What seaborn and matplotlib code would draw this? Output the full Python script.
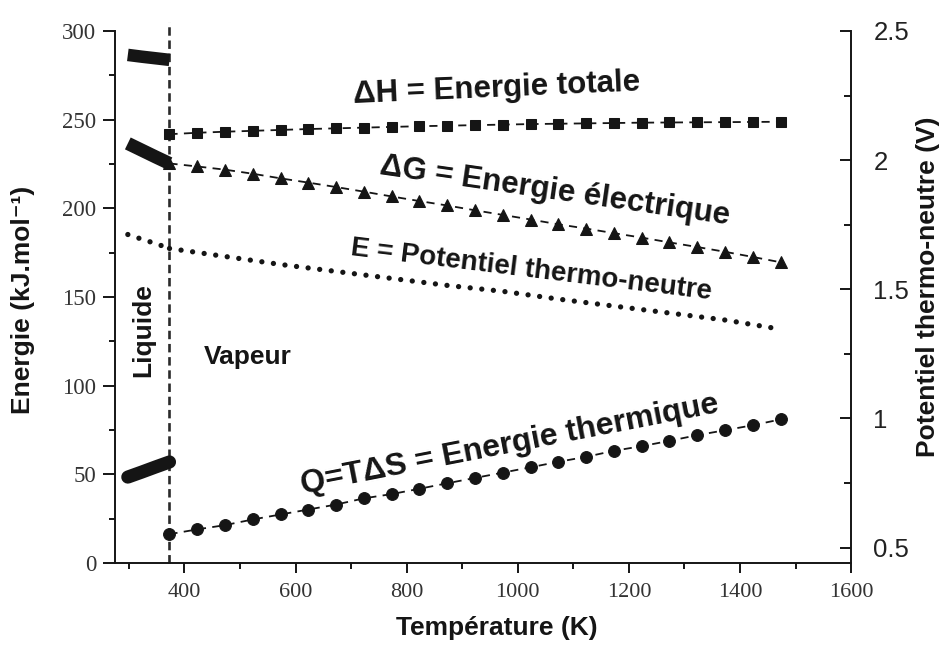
import matplotlib
matplotlib.use("Agg")
import matplotlib.pyplot as plt
import seaborn as sns
from matplotlib.ticker import MultipleLocator

# ---------------- data ----------------
T_transition = 373

# liquid water (thick bands)
T_liq = [298, 323, 348, 373]
dH_liq = [286.5, 285.5, 284.6, 283.7]
dG_liq = [236.6, 232.8, 229.0, 225.3]
Q_liq = [48.5, 51.3, 54.2, 57.0]
E_liq = [1.712, 1.694, 1.677, 1.658]

# steam
T_vap = [373, 423, 473, 523, 573, 623, 673, 723, 773, 823, 873, 923,
         973, 1023, 1073, 1123, 1173, 1223, 1273, 1323, 1373, 1423, 1473]
dH_vap = [241.8, 242.6, 243.2, 243.7, 244.2, 244.7, 245.1, 245.5, 245.9,
          246.3, 246.6, 246.9, 247.2, 247.5, 247.7, 247.9, 248.1, 248.3,
          248.4, 248.5, 248.6, 248.7, 248.8]
dG_vap = [225.3, 223.6, 221.8, 219.5, 216.9, 214.5, 212.0, 209.4, 206.7,
          204.1, 201.6, 198.9, 196.3, 193.7, 191.0, 188.6, 186.0, 183.5,
          180.8, 178.2, 175.5, 172.6, 169.6]
Q_vap = [16.3, 19.0, 21.4, 24.6, 27.4, 30.2, 33.0, 36.5, 38.9, 41.9, 45.0,
         48.0, 51.0, 54.0, 57.1, 59.9, 63.3, 65.9, 68.9, 72.1, 74.9, 77.7, 81.0]
T_E = [373, 473, 573, 673, 773, 873, 973, 1073, 1173, 1273, 1373, 1460]
E_vap = [1.658, 1.627, 1.596, 1.569, 1.542, 1.515, 1.492, 1.462, 1.435,
         1.408, 1.381, 1.350]

x_ticks = [400, 600, 800, 1000, 1200, 1400, 1600]
y_ticks = [0, 50, 100, 150, 200, 250, 300]
v_ticks = [0.5, 1, 1.5, 2, 2.5]
v_labels = ["0.5", "1", "1.5", "2", "2.5"]

# ---------------- style ----------------
sns.set_theme(style="ticks")
SANS = ["Liberation Sans", "DejaVu Sans"]
SERIF = ["Liberation Serif", "DejaVu Serif"]
plt.rcParams["font.family"] = SANS
INK = "#151515"

fig = plt.figure(figsize=(9.43, 6.45), dpi=100)
ax = fig.add_axes([0.122, 0.127, 0.7805, 0.825])
ax2 = ax.twinx()

# liquid bands
sns.lineplot(x=T_liq, y=dH_liq, ax=ax, color=INK, linewidth=9,
             solid_capstyle="butt")
sns.lineplot(x=T_liq, y=dG_liq, ax=ax, color=INK, linewidth=9.5,
             solid_capstyle="butt")
sns.lineplot(x=T_liq, y=Q_liq, ax=ax, color=INK, linewidth=9.5,
             solid_capstyle="round")

# steam series
dash = (0, (4.5, 3.5))
sns.lineplot(x=T_vap, y=dH_vap, ax=ax, color=INK, linewidth=1.3,
             linestyle=dash, marker="s", markersize=6.5,
             markeredgecolor=INK, markerfacecolor=INK)
sns.lineplot(x=T_vap, y=dG_vap, ax=ax, color=INK, linewidth=1.3,
             linestyle=dash, marker="^", markersize=8,
             markeredgecolor=INK, markerfacecolor=INK)
sns.lineplot(x=T_vap, y=Q_vap, ax=ax, color=INK, linewidth=1.3,
             linestyle=dash, marker="o", markersize=8.5,
             markeredgecolor=INK, markerfacecolor=INK)

# thermo-neutral potential (right axis, dotted)
dots = (0, (0.01, 2.2))
sns.lineplot(x=T_liq, y=E_liq, ax=ax2, color=INK, linewidth=3.8,
             linestyle=dots, dash_capstyle="round")
sns.lineplot(x=T_E, y=E_vap, ax=ax2, color=INK, linewidth=3.8,
             linestyle=dots, dash_capstyle="round")

# liquid / vapour boundary
ax.axvline(T_transition, ymin=0, ymax=1.017, color="#2a2a2a", linewidth=1.9,
           linestyle=(0, (3.2, 1.8)), clip_on=False, zorder=1)

# ---------------- axes ----------------
ax.set_xlim(275, 1600)
ax.set_ylim(0, 300)
ax2.set_ylim(0.44, 2.5)

ax.set_xticks(x_ticks)
ax.set_xticklabels([str(v) for v in x_ticks])
ax.xaxis.set_minor_locator(MultipleLocator(100))
ax.set_yticks(y_ticks)
ax.set_yticklabels([str(v) for v in y_ticks])
ax.yaxis.set_minor_locator(MultipleLocator(25))
ax2.set_yticks(v_ticks)
ax2.set_yticklabels(v_labels)
ax2.yaxis.set_minor_locator(MultipleLocator(0.25))

ax.tick_params(axis="x", which="major", direction="out", length=7, width=1.4,
               pad=7, labelsize=16, labelcolor="#333", color=INK)
ax.tick_params(axis="x", which="minor", direction="out", length=4.5,
               width=1.4, color=INK)
ax.tick_params(axis="y", which="major", direction="out", length=8.5,
               width=1.4, pad=5, labelsize=16.5, labelcolor="#333", color=INK)
ax.tick_params(axis="y", which="minor", direction="out", length=4.5,
               width=1.4, color=INK)
ax2.tick_params(axis="y", which="major", direction="in", length=8,
                width=1.4, pad=16, labelsize=18.5, labelcolor="#222", color=INK)
ax2.tick_params(axis="y", which="minor", direction="in", length=5,
                width=1.4, color=INK)

for lab in ax.get_xticklabels() + ax.get_yticklabels():
    lab.set_fontfamily(SERIF)

for a in (ax, ax2):
    a.spines["top"].set_visible(False)
    for s in a.spines.values():
        s.set_linewidth(1.4)
        s.set_color(INK)
ax.spines["right"].set_visible(False)
ax2.spines["left"].set_visible(False)
ax2.spines["bottom"].set_visible(False)

lab_kw = dict(fontsize=19, fontweight="bold", color=INK, family=SANS)
ax.set_xlabel("Température (K)", **lab_kw)
ax.xaxis.set_label_coords(0.519, -0.10)
ax.set_ylabel("Energie (kJ.mol⁻¹)", **lab_kw)
ax.yaxis.set_label_coords(-0.109, 0.494)
ax2.set_ylabel("Potentiel thermo-neutre (V)", **lab_kw)
ax2.yaxis.set_label_coords(1.088, 0.52)

# ---------------- annotations ----------------
def ann(px, py, txt, rot, size=22.5):
    ax.text((px - 115) / 736, (563 - py) / 532, txt, transform=ax.transAxes,
            rotation=rot, rotation_mode="anchor", ha="center", va="center",
            fontsize=size, fontweight="bold", color=INK, family=SANS)

ann(497, 89, "ΔH = Energie totale", 2.5)
ann(555, 191, "ΔG = Energie électrique", -8.2)
ann(531, 270, "E = Potentiel thermo-neutre", -7.0, size=20)
ann(510, 445, "Q=TΔS = Energie thermique", 11.0, size=23)
ann(143, 330, "Liquide", 90, size=19)
ann(248, 357, "Vapeur", 0, size=19)

fig.savefig("out.png", dpi=100, facecolor="white")
